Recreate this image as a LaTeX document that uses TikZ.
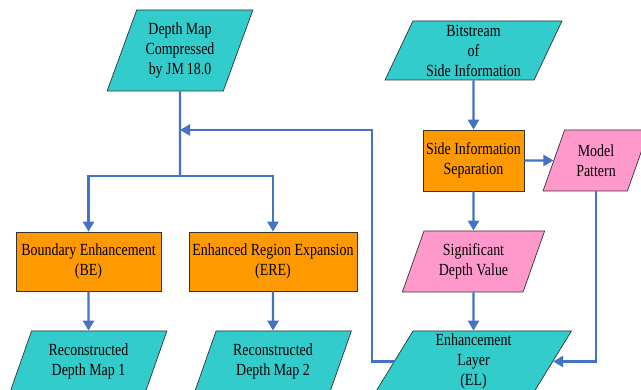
\documentclass[tikz,border=0pt]{standalone}
\usepackage{fontspec}
\setmainfont[FakeStretch=0.82]{Liberation Serif}
\usetikzlibrary{shapes.geometric,arrows.meta}

\definecolor{datacyan}{RGB}{51,204,204}
\definecolor{procorange}{RGB}{255,153,0}
\definecolor{infopink}{RGB}{255,153,204}
\definecolor{flowblue}{RGB}{68,114,196}

\tikzset{
  data/.style={trapezium, trapezium left angle=67, trapezium right angle=113,
    trapezium stretches=true, draw=black!80, line width=0.7pt, fill=datacyan,
    align=center, inner sep=0pt, minimum height=61pt,
    font=\fontsize{17}{20}\selectfont},
  info/.style={data, fill=infopink},
  proc/.style={rectangle, draw=black!80, line width=0.7pt, fill=procorange,
    align=center, inner sep=0pt, minimum height=60pt,
    font=\fontsize{17}{20}\selectfont},
  line/.style={draw=flowblue, line width=2.4pt},
  flow/.style={line, -{Triangle[length=10pt,width=11pt]}}
}

\begin{document}
\begin{tikzpicture}[x=1pt,y=-1pt]
  \useasboundingbox (0,0) rectangle (641,390);
  % inputs
  \node[data, minimum width=146pt, minimum height=81pt] (dmc) at (180,50.5) {Depth Map\\Compressed\\by JM\,18.0};
  \node[data, minimum width=177pt, minimum height=59pt] (bs) at (473.5,50.5) {Bitstream\\of\\Side Information};
  % side information
  \node[proc, minimum width=101pt, minimum height=61pt] (sis) at (473.5,160.5) {Side Information\\Separation};
  \node[info, minimum width=106pt] (mp) at (596,160.5) {Model\\Pattern};
  \node[info, minimum width=143pt] (sdv) at (473.5,261.5) {Significant\\Depth Value};
  % enhancement
  \node[proc, minimum width=145pt, minimum height=59pt] (be) at (88.5,261.5) {Boundary Enhancement\\(BE)};
  \node[proc, minimum width=168pt, minimum height=59pt] (ere) at (273,261.5) {Enhanced Region Expansion\\(ERE)};
  % outputs
  \node[data, minimum width=157pt] (rdm1) at (88.5,361.5) {Reconstructed\\Depth Map 1};
  \node[data, minimum width=157pt] (rdm2) at (273,361.5) {Reconstructed\\Depth Map 2};
  \node[data, minimum width=196pt] (el) at (473.5,361.5) {Enhancement\\Layer\\(EL)};

  \coordinate (split) at (180,176);
  \coordinate (join) at (180,130);
  \draw[line] (dmc.south) -- (split);
  \draw[flow] (split) -| (be.north);
  \draw[flow] (split) -| (ere.north);
  \draw[flow] (be.south) -- (rdm1.north);
  \draw[flow] (ere.south) -- (rdm2.north);
  \draw[flow] (bs.south) -- (sis.north);
  \draw[flow] (sis.east) -- (mp.west);
  \draw[flow] (sis.south) -- (sdv.north);
  \draw[flow] (sdv.south) -- (el.north);
  \draw[flow] (mp.south) |- (el.east);
  \draw[flow] (el.west) -- ++(-22,0) |- (join);
\end{tikzpicture}
\end{document}
